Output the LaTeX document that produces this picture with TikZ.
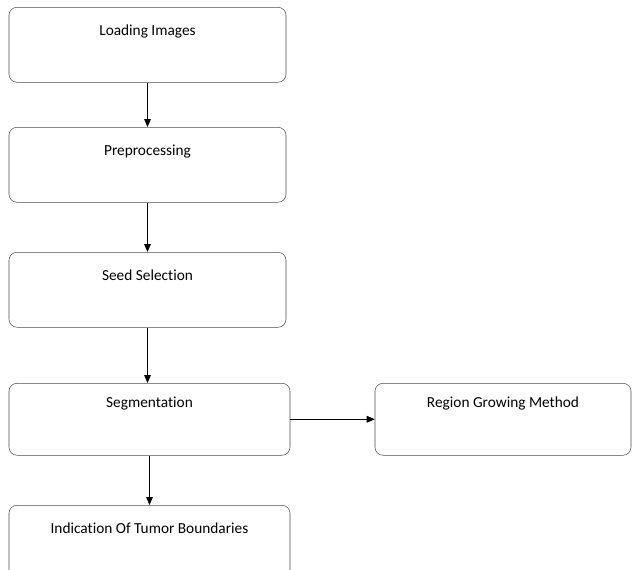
\documentclass[tikz,border=0pt]{standalone}
\usepackage{fontspec}
\setmainfont{Carlito}[Ligatures=NoCommon]
\usetikzlibrary{arrows.meta}

\begin{document}
\begin{tikzpicture}[
    x=0.75pt, y=-0.75pt,
    stepbox/.style={draw=black!70, rounded corners=6pt, minimum width=207.75pt, inner xsep=0pt, inner ysep=0pt, text height=21pt, text depth=35.25pt, anchor=north, font=\fontsize{11.5}{13}\selectfont},
    arr/.style={-{Triangle[length=6pt, width=5pt]}, semithick}
]
\useasboundingbox (0,0) rectangle (632,569);
\clip (0,0) rectangle (632,569);
\node[stepbox] (load) at (147.5,7) {Loading Images};
\node[stepbox] (prep) at (147.5,127) {Preprocessing};
\node[stepbox] (seed) at (147.5,252) {Seed Selection};
\node[stepbox, minimum width=210.75pt, text height=18pt, text depth=36pt] (seg) at (149.5,383) {Segmentation};
\node[stepbox, minimum width=192pt, text height=18pt, text depth=36pt] (grow) at (503,383) {Region Growing Method};
\node[stepbox, minimum width=210.75pt] (tumor) at (149.5,505) {Indication Of Tumor Boundaries};

\draw[arr] (load) -- (prep);
\draw[arr] (prep) -- (seed);
\draw[arr] (seed.south) -- (seed.south |- seg.north);
\draw[arr] (seg) -- (grow);
\draw[arr] (seg) -- (tumor);
\end{tikzpicture}
\end{document}
